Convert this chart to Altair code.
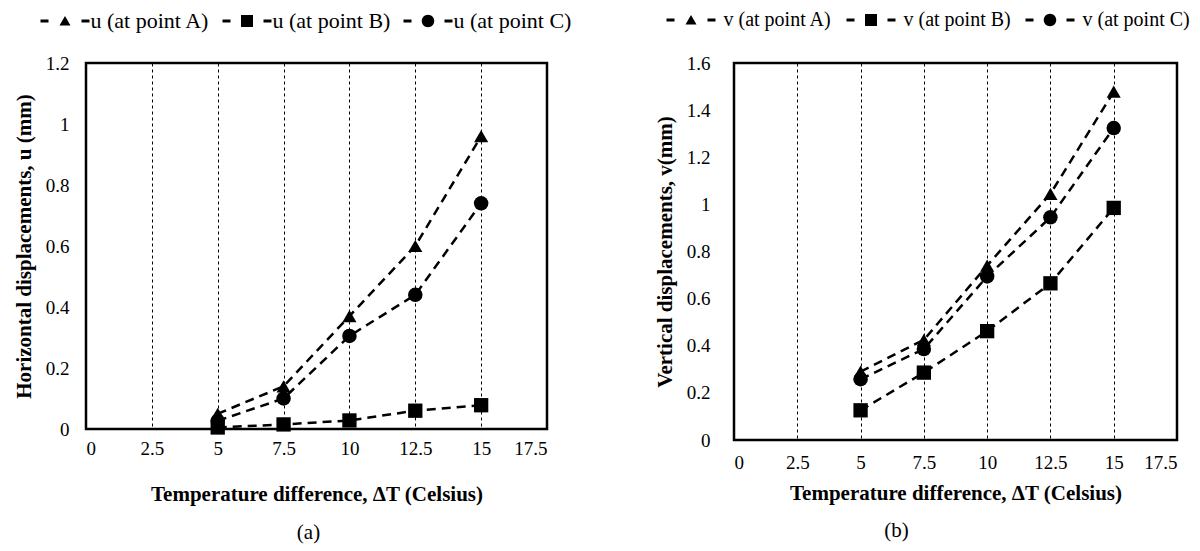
import altair as alt
import pandas as pd

delta_t = [5, 7.5, 10, 12.5, 15]

u_labels = ["u (at point A)", "u (at point B)", "u (at point C)"]
u_a = [0.05, 0.14, 0.37, 0.60, 0.96]
u_b = [0.005, 0.015, 0.028, 0.06, 0.078]
u_c = [0.027, 0.10, 0.305, 0.44, 0.74]

v_labels = ["v (at point A)", "v (at point B)", "v (at point C)"]
v_a = [0.29, 0.425, 0.74, 1.045, 1.478]
v_b = [0.126, 0.286, 0.462, 0.665, 0.985]
v_c = [0.258, 0.386, 0.694, 0.945, 1.324]

x_ticks = [0, 2.5, 5, 7.5, 10, 12.5, 15, 17.5]
u_ticks = [0, 0.2, 0.4, 0.6, 0.8, 1, 1.2]
v_ticks = [0, 0.2, 0.4, 0.6, 0.8, 1, 1.2, 1.4, 1.6]

FONT = "Liberation Serif"

DASHES = "M-4.9,-0.3H-3.3V0.3H-4.9Z M3.3,-0.3H4.9V0.3H3.3Z"
LEG_TRI = DASHES + " M0,-1L1.1,0.9L-1.1,0.9Z"
LEG_SQ = DASHES + " M-1.2,-1.2H1.2V1.2H-1.2Z"
LEG_CI = DASHES + " M-1.25,0A1.25,1.25 0 1,0 1.25,0A1.25,1.25 0 1,0 -1.25,0Z"


def make_df(labels, series):
    rows = []
    for lab, vals in zip(labels, series):
        for x, y in zip(delta_t, vals):
            rows.append({"dt": x, "val": y, "series": lab, "legend": lab})
    return pd.DataFrame(rows)


def panel(df, labels, ticks, ymax, ytitle, caption, w, h, ylabpad, ytitpad,
          xlabpad, xtitpad, leg_x, leg_y, leg_fs, leg_off, leg_pad, cap_dx, cap_off):
    X = alt.X("dt:Q", scale=alt.Scale(domain=[0, 17.5], nice=False),
              axis=alt.Axis(values=x_ticks, format=".3~g", title="Temperature difference, \u0394T (Celsius)",
                            grid=True, gridDash=[3, 3], gridColor="black", gridWidth=1, gridOpacity=1,
                            ticks=False, domain=False, labelPadding=xlabpad, titlePadding=xtitpad,
                            labelFont=FONT, labelFontSize=19, labelColor="black",
                            titleFont=FONT, titleFontSize=21, titleFontWeight="bold", titleColor="black"))
    Y = alt.Y("val:Q", scale=alt.Scale(domain=[0, ymax], nice=False),
              axis=alt.Axis(values=ticks, format=".3~g", title=ytitle, grid=False,
                            ticks=False, domain=False, labelPadding=ylabpad, titlePadding=ytitpad,
                            labelFont=FONT, labelFontSize=19, labelColor="black",
                            titleFont=FONT, titleFontSize=21, titleFontWeight="bold", titleColor="black"))
    base = alt.Chart(df)
    line = base.mark_line(color="black", strokeWidth=2.5, strokeDash=[9, 6]).encode(
        x=X, y=Y, detail="series:N")
    pts = base.mark_point(filled=True, color="black", opacity=1, strokeWidth=0).encode(
        x=X, y=Y,
        shape=alt.Shape("series:N", scale=alt.Scale(domain=labels, range=["triangle-up", "square", "circle"]),
                        legend=None),
        size=alt.Size("series:N", scale=alt.Scale(domain=labels, range=[200, 210, 190]), legend=None))
    leg = base.mark_point(filled=True, color="black", opacity=0).encode(
        x=X, y=Y,
        shape=alt.Shape("legend:N", scale=alt.Scale(domain=labels, range=[LEG_TRI, LEG_SQ, LEG_CI]),
                        legend=alt.Legend(title=None, orient="none", legendX=leg_x, legendY=leg_y,
                                          direction="horizontal", symbolSize=100, symbolOpacity=1,
                                          symbolFillColor="black", symbolStrokeColor="black",
                                          symbolStrokeWidth=0, labelOffset=leg_off, columnPadding=leg_pad,
                                          labelFont=FONT, labelFontSize=leg_fs, labelColor="black")))
    return alt.layer(line, pts, leg).resolve_scale(shape="independent", size="independent").resolve_legend(
        shape="independent").properties(
        width=w, height=h,
        title=alt.TitleParams(caption, orient="bottom", font=FONT, fontSize=21, fontWeight="normal",
                              color="black", dx=cap_dx, offset=cap_off))


df_u = make_df(u_labels, [u_a, u_b, u_c])
df_v = make_df(v_labels, [v_a, v_b, v_c])

pa = panel(df_u, u_labels, u_ticks, 1.2, "Horizontal displacements, u (mm)", "(a)", 461, 366,
           17, 11, 10, 25, -32, -53, 22, 14.5, 12, -8, 18)
pb = panel(df_v, v_labels, v_ticks, 1.6, "Vertical displacements, v(mm)", "(b)", 443, 377,
           24, 11, 13, 10, -53, -53, 20, 22.5, 14, -59, 17)

chart = alt.hconcat(pa, pb, spacing=79).configure_view(stroke="black", strokeWidth=2.5).properties(
    background="white", padding={"left": 4, "top": 0, "right": 0, "bottom": 0})

chart.save("out.html", embed_options={"renderer": "svg", "actions": False})
